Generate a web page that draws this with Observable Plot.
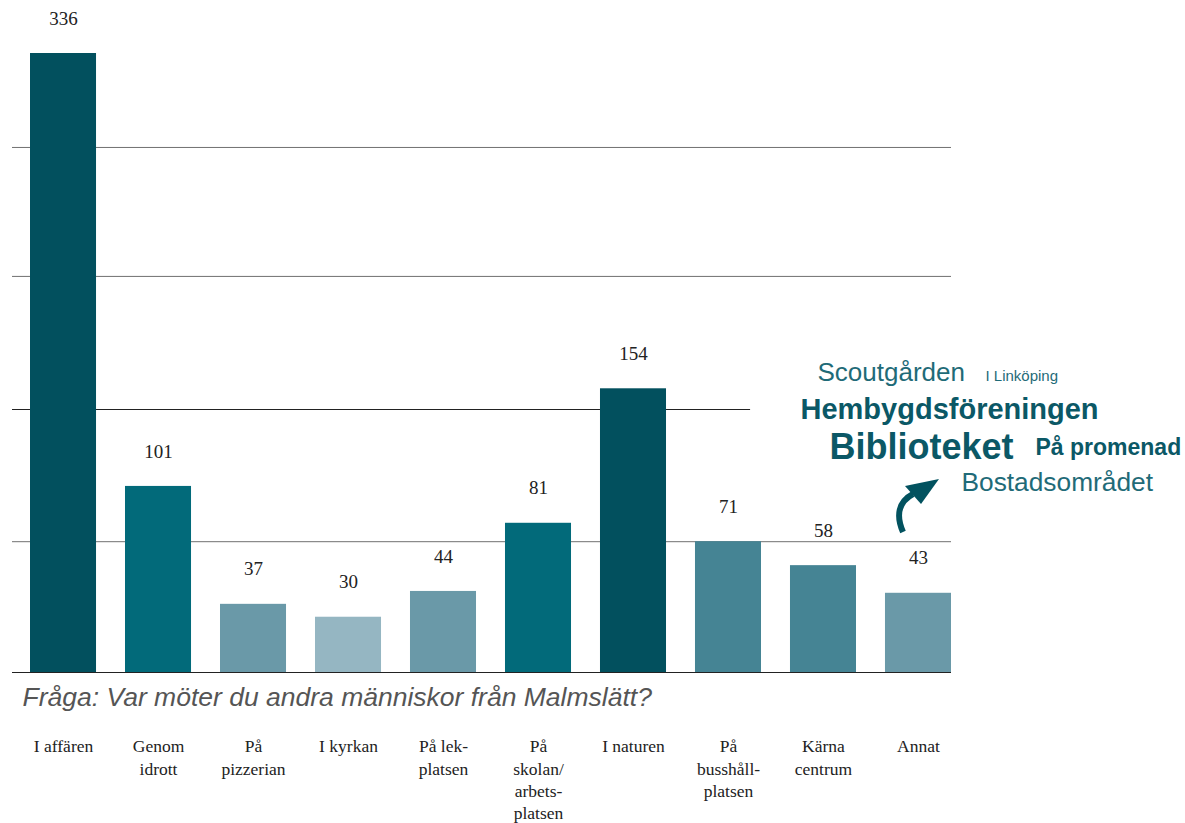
<!DOCTYPE html>
<html>
<head>
<meta charset="utf-8">
<script src="https://cdn.jsdelivr.net/npm/d3@7"></script>
<script src="https://cdn.jsdelivr.net/npm/@observablehq/plot@0.6"></script>
<style>
  html, body { margin: 0; padding: 0; background: #fff; }
  svg { display: block; }
</style>
</head>
<body>
<div id="chart"></div>
<script>
// ---- data ----
const categories = ["I affären", "Genom idrott", "På pizzerian", "I kyrkan", "På lekplatsen",
  "På skolan/arbetsplatsen", "I naturen", "På busshållplatsen", "Kärna centrum", "Annat"];
const categoryLabels = ["I affären", "Genom\nidrott", "På\npizzerian", "I kyrkan", "På lek-\nplatsen",
  "På\nskolan/\narbets-\nplatsen", "I naturen", "På\nbusshåll-\nplatsen", "Kärna\ncentrum", "Annat"];
const counts = [336, 101, 37, 30, 44, 81, 154, 71, 58, 43];
const gridValues = [71, 285, 215];
const shortGridValue = [143];
const question = "Fråga: Var möter du andra människor från Malmslätt?";
const cloudWords = ["Scoutgården", "I Linköping", "Hembygdsföreningen", "Biblioteket", "På promenad", "Bostadsområdet"];

const rows = categories.map((c, i) => ({category: c, label: categoryLabels[i], value: counts[i]}));

const serif = "Georgia, 'Liberation Serif', 'DejaVu Serif', serif";
const sans = "'Liberation Sans', Arial, Helvetica, sans-serif";
const teal = "#0b5866";

// word cloud styling (annotation)
const cloudStyle = [
  {dx: 805, dy: 319, size: 26, weight: "normal", fill: "#1f6b78"},
  {dx: 973, dy: 323, size: 15, weight: "normal", fill: "#1f6b78"},
  {dx: 788, dy: 356, size: 29, weight: "bold", fill: teal},
  {dx: 817, dy: 394, size: 36, weight: "bold", fill: teal},
  {dx: 1023, dy: 394, size: 23, weight: "bold", fill: teal},
  {dx: 949, dy: 429, size: 26.3, weight: "normal", fill: "#1f6b78"}
];

// short grid line that stops before the word cloud
function shortGrid(index, scales, values, dims) {
  const x = scales.x, y = scales.y;
  const step = x(categories[8]) - x(categories[7]);
  const g = d3.create("svg:g");
  for (const v of shortGridValue) {
    g.append("line")
      .attr("x1", dims.marginLeft).attr("x2", x(categories[7]) + 0.58 * step)
      .attr("y1", Math.round(y(v)) + 0.5).attr("y2", Math.round(y(v)) + 0.5)
      .attr("stroke", "#222").attr("stroke-width", 1);
  }
  return g.node();
}

function arrow(index, scales, values, dims) {
  const right = dims.width - dims.marginRight; // 951
  const g = d3.create("svg:g");
  const ox = right - 48, oy = dims.height - dims.marginBottom - 140;
  g.append("path")
    .attr("d", `M${ox},${oy} C${ox - 7},${oy - 16} ${ox - 5},${oy - 30} ${ox + 10},${oy - 38}`)
    .attr("fill", "none").attr("stroke", "#02525f").attr("stroke-width", 6);
  g.append("path")
    .attr("d", `M${ox + 36},${oy - 53} L${ox + 2},${oy - 46} L${ox + 18},${oy - 28} Z`)
    .attr("fill", "#02525f");
  return g.node();
}

const chart = Plot.plot({
  width: 1185,
  height: 823,
  marginTop: 53,
  marginBottom: 151,
  marginLeft: 12,
  marginRight: 234,
  style: {fontFamily: serif, background: "#fff"},
  x: {domain: categories, range: [30, 951], paddingInner: 0.305, paddingOuter: 0, round: false, axis: null},
  y: {domain: [0, 336], axis: null},
  color: {type: "threshold", domain: [35, 50, 80, 120],
          range: ["#95b6c2", "#6a99a8", "#458494", "#026a7a", "#02505e"]},
  marks: [
    Plot.ruleY(gridValues, {stroke: "#707070", strokeWidth: 1}),
    shortGrid,
    Plot.barY(rows, {x: "category", y: "value", fill: "value"}),
    Plot.ruleY([0], {stroke: "#222", strokeWidth: 1.2}),
    Plot.text(rows, {x: "category", y: "value", text: d => String(d.value), dy: -35,
      fontFamily: serif, fontSize: 19, fill: "#222"}),
    Plot.text(rows, {x: "category", y: () => 0, text: "label", dy: 64, lineAnchor: "top",
      lineHeight: 1.27, fontFamily: serif, fontSize: 17.5, fill: "#222"}),
    Plot.text([question], {frameAnchor: "bottom-left", dx: 10, dy: 25, textAnchor: "start", lineAnchor: "middle",
      fontFamily: sans, fontStyle: "italic", fontSize: 26.5, fill: "#555"}),
    ...cloudWords.map((w, i) => Plot.text([w], {
      frameAnchor: "top-left", dx: cloudStyle[i].dx, dy: cloudStyle[i].dy, textAnchor: "start",
      lineAnchor: "middle",
      fontFamily: sans, fontSize: cloudStyle[i].size, fontWeight: cloudStyle[i].weight,
      fill: cloudStyle[i].fill
    })),
    arrow
  ]
});
document.getElementById("chart").append(chart);
</script>
</body>
</html>
